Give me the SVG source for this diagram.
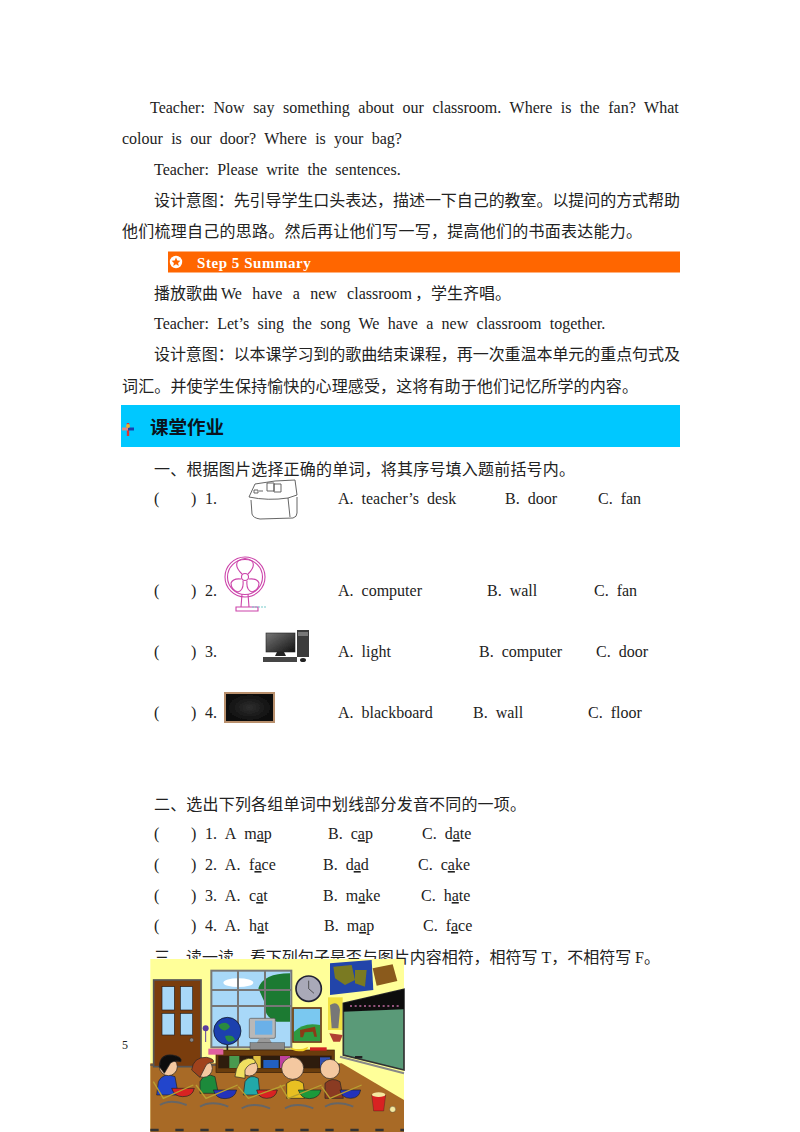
<svg xmlns="http://www.w3.org/2000/svg" width="800" height="1132" viewBox="0 0 800 1132">
<style>
text{font-family:"Liberation Serif","Noto Sans CJK SC",serif;font-size:16px;fill:#222;white-space:pre;word-spacing:4px}
.cn{font-family:"Liberation Serif","Noto Sans CJK SC",sans-serif;word-spacing:0}
.u{text-decoration:underline}
.n{word-spacing:4.700px}
</style>
<defs>
<filter id="soft" x="-5%" y="-5%" width="110%" height="110%"><feGaussianBlur stdDeviation=".4"/></filter>
<linearGradient id="mon" x1="0" y1="0" x2="1" y2="1"><stop offset="0" stop-color="#777"/><stop offset="1" stop-color="#111"/></linearGradient>
<radialGradient id="board"><stop offset="0" stop-color="#2e2e2e"/><stop offset="1" stop-color="#0c0c0c"/></radialGradient>
</defs>
<rect width="800" height="1132" fill="#fff"/>
<g id="lesson-text">
<text x="150" y="113" style="word-spacing:4.600px">Teacher: Now say something about our classroom. Where is the fan? What</text>
<text x="122" y="144" style="word-spacing:4.300px">colour is our door? Where is your bag?</text>
<text x="154" y="175" style="word-spacing:4.300px">Teacher: Please write the sentences.</text>
<text x="154" y="206" textLength="526" class="cn">设计意图：先引导学生口头表达，描述一下自己的教室。以提问的方式帮助</text>
<text x="122" y="237" textLength="520" class="cn">他们梳理自己的思路。然后再让他们写一写，提高他们的书面表达能力。</text>
<rect x="168" y="251.500" width="512" height="21" fill="#ff6600"/>
<circle cx="176" cy="262" r="6.200" fill="#fff"/>
<path d="M176 257.600l1.300 2.900 3.100.3-2.300 2.100.7 3-2.800-1.600-2.800 1.600.7-3-2.300-2.100 3.100-.3z" fill="#ff6600"/>
<text x="197" y="268" font-weight="bold" style="fill:#fff;font-size:15px;letter-spacing:.55px;word-spacing:0">Step 5 Summary</text>
<text x="154" y="299" class="cn">播放歌曲</text>
<text x="221" y="299" style="word-spacing:6.300px">We have a new classroom</text>
<text x="415" y="299" class="cn">，学生齐唱。</text>
<text x="154" y="329" style="word-spacing:4.300px">Teacher: Let’s sing the song We have a new classroom together.</text>
<text x="154" y="360" textLength="526" class="cn">设计意图：以本课学习到的歌曲结束课程，再一次重温本单元的重点句式及</text>
<text x="122" y="392" textLength="516" class="cn">词汇。并使学生保持愉快的心理感受，这将有助于他们记忆所学的内容。</text>
</g>
<g id="homework-header">
<rect x="121" y="405" width="559" height="42" fill="#00c8ff"/>
<path d="M128 423v13" stroke="#d33" stroke-width="2.400"/>
<path d="M122 429h6" stroke="#e08a80" stroke-width="3"/>
<path d="M128 429h6" stroke="#1a3fae" stroke-width="3"/>
<circle cx="128" cy="426" r="2" fill="#e8b030"/>
<text x="150" y="434" class="cn" font-weight="bold" style="font-size:18.500px;fill:#0a1420">课堂作业</text>
</g>
<g id="exercise-1">
<text x="154" y="475" class="cn" textLength="421">一、根据图片选择正确的单词，将其序号填入题前括号内。</text>
<text x="154" y="504">(</text><text x="191" y="504" class="n">) 1.</text>
<text x="338" y="504">A. teacher’s desk</text><text x="505" y="504">B. door</text><text x="598" y="504">C. fan</text>
<text x="154" y="596">(</text><text x="191" y="596" class="n">) 2.</text>
<text x="338" y="596">A. computer</text><text x="487" y="596">B. wall</text><text x="594" y="596">C. fan</text>
<text x="154" y="657">(</text><text x="191" y="657" class="n">) 3.</text>
<text x="338" y="657">A. light</text><text x="479" y="657">B. computer</text><text x="596" y="657">C. door</text>
<text x="154" y="718">(</text><text x="191" y="718" class="n">) 4.</text>
<text x="338" y="718">A. blackboard</text><text x="473" y="718">B. wall</text><text x="588" y="718">C. floor</text>
<g id="desk-picture" fill="none" stroke="#555" stroke-width=".9" filter="url(#soft)">
<path d="M249 497L255 484Q275 480 295 480L297 495L288 498Q268 501 249 497z"/>
<path d="M251 500L252 514Q253 518 260 519L293 518Q297 517 297 513L297 497M288 498L290 517"/>
<path d="M254 490h4v3h-4zM259 491h4M267 483h7v8h-7zM274 484h7v8h-7z"/>
</g>
<g id="fan-picture" fill="none" stroke="#cc44aa" stroke-width="1.100" filter="url(#soft)">
<circle cx="245" cy="577" r="20"/><circle cx="245" cy="577" r="17.500"/><circle cx="245" cy="577" r="3.500"/>
<path d="M242 574Q234 566 238 561 245 556 252 561 256 566 248 574M249 579Q257 578 259 583 259 590 252 592 246 590 247 581M241 579Q233 578 231 583 231 590 238 592 244 590 243 581"/>
<path d="M242 594L241 607M248 594L249 607M236 607h22v4h-22z"/>
<path d="M252 607h15" stroke="#7cc" stroke-dasharray="2 1"/>
</g>
<g id="computer-picture" filter="url(#soft)">
<rect x="266" y="633" width="29" height="19" fill="url(#mon)" stroke="#222" stroke-width=".6"/>
<path d="M277 652h7l2 4h-11z" fill="#222"/>
<path d="M263 657h34v5h-34z" fill="#444"/>
<rect x="297" y="630" width="12" height="27" fill="#3a3a3a"/>
<rect x="298" y="632" width="10" height="4" fill="#777"/>
<ellipse cx="303" cy="660" rx="3" ry="2" fill="#222"/>
</g>
<g id="blackboard-picture" filter="url(#soft)">
<rect x="225" y="693" width="49" height="29" fill="url(#board)" stroke="#b88f6c" stroke-width="2"/>
</g>
</g>
<g id="exercise-2">
<text x="154" y="810" class="cn" textLength="372">二、选出下列各组单词中划线部分发音不同的一项。</text>
<text x="154" y="839">(</text><text x="191" y="839" class="n">) 1. A m<tspan class="u">a</tspan>p</text><text x="328" y="839">B. c<tspan class="u">a</tspan>p</text><text x="422" y="839">C. d<tspan class="u">a</tspan>te</text>
<text x="154" y="870">(</text><text x="191" y="870" class="n">) 2. A. f<tspan class="u">a</tspan>ce</text><text x="323" y="870">B. d<tspan class="u">a</tspan>d</text><text x="418" y="870">C. c<tspan class="u">a</tspan>ke</text>
<text x="154" y="901">(</text><text x="191" y="901" class="n">) 3. A. c<tspan class="u">a</tspan>t</text><text x="323" y="901">B. m<tspan class="u">a</tspan>ke</text><text x="421" y="901">C. h<tspan class="u">a</tspan>te</text>
<text x="154" y="931">(</text><text x="191" y="931" class="n">) 4. A. h<tspan class="u">a</tspan>t</text><text x="324" y="931">B. m<tspan class="u">a</tspan>p</text><text x="423" y="931">C. f<tspan class="u">a</tspan>ce</text>
<text x="154" y="963" class="cn" textLength="506">三、读一读，看下列句子是否与图片内容相符，相符写 T，不相符写 F。</text>
</g>
<text id="page-number" x="122" y="1049" style="font-size:12px">5</text>
<g id="classroom-picture" transform="translate(110 950) scale(.33333)" filter="url(#soft)">
<rect x="121" y="27" width="761" height="520" fill="#ffff99"/>
<path d="M121 340H695L882 450V547H121z" fill="#a86a28"/>
<path d="M121 345H690" stroke="#555" stroke-width="4"/>
<rect x="131" y="90" width="142" height="260" fill="#7a3d10" stroke="#555" stroke-width="5"/>
<g fill="#a8d8f8" stroke="#222" stroke-width="2">
<rect x="156" y="110" width="37" height="70"/><rect x="211" y="110" width="37" height="70"/><rect x="156" y="190" width="37" height="65"/><rect x="211" y="190" width="37" height="65"/>
</g>
<circle cx="245" cy="270" r="6" fill="#888" stroke="#222"/>
<rect x="304" y="62" width="240" height="230" fill="#a8d8f8" stroke="#777" stroke-width="6"/>
<path d="M445 115q15-45 95-45V215H500q-40-15-35-55z" fill="#1f7a30"/>
<ellipse cx="385" cy="98" rx="45" ry="13" fill="#fff"/>
<path d="M304 120H544M304 168H544M384 62V292M465 62V292" stroke="#777" stroke-width="6"/>
<circle cx="596" cy="116" r="38" fill="#a9a9b8" stroke="#223" stroke-width="5"/>
<path d="M596 116V92M596 116L612 130" stroke="#222" stroke-width="2"/>
<rect x="549" y="174" width="84" height="102" fill="#7ac8f0" stroke="#6b3a10" stroke-width="5"/>
<path d="M552 245q30-30 78-20v48H552z" fill="#2f9a40"/>
<path d="M570 240l45-10 6 30h-8l-4-15-25 2-5 15h-8z" fill="#8a3a18"/>
<path d="M660 40L785 30 790 120 660 135z" fill="#2244aa"/>
<path d="M670 50l55-5 10 45-30 15-30-20zM735 60l35 0-5 50-30-10z" fill="#7a7a20"/>
<path d="M788 55l60-12 14 50-62 14z" fill="#8a5a1a"/>
<rect x="654" y="142" width="44" height="98" fill="#f0e040"/>
<path d="M660 165q25-15 30 15l-5 55h-20z" fill="#777"/>
<path d="M700 160L882 118V360L700 315z" fill="#5a9a78" stroke="#333" stroke-width="5"/>
<path d="M700 160L882 118V178L700 185z" fill="#111"/>
<path d="M720 168H870" stroke="#c06aa0" stroke-width="5" stroke-dasharray="6 8"/>
<path d="M690 320L882 370" stroke="#888" stroke-width="6"/>
<path d="M735 318h22v7h-22z" fill="#222"/>
<path d="M658 250l40 5-8 20h-20z" fill="#b04030"/>
<circle cx="287" cy="235" r="9" fill="#5a3ea0"/><path d="M287 240V276" stroke="#5a3ea0" stroke-width="3"/>
<circle cx="352" cy="243" r="41" fill="#1a3fae" stroke="#111" stroke-width="2"/>
<path d="M325 225q25-15 35 5-15 20-30 5zM345 258q25-5 30 12-25 15-30-12z" fill="#2a8a40"/>
<path d="M352 285v20" stroke="#222" stroke-width="5"/>
<rect x="418" y="205" width="78" height="60" rx="4" fill="#b8b8b8" stroke="#555" stroke-width="2"/>
<rect x="435" y="212" width="52" height="42" fill="#6ab0e8"/>
<path d="M448 265h30l8 15h-46z" fill="#999"/>
<rect x="420" y="278" width="104" height="22" fill="#8c8c8c" stroke="#222"/>
<rect x="318" y="300" width="355" height="68" fill="#6b3c10" stroke="#3a1e05" stroke-width="2"/>
<rect x="325" y="317" width="340" height="38" fill="#2e1a08"/>
<rect x="358" y="318" width="30" height="36" fill="#4a9a50"/><rect x="430" y="318" width="22" height="36" fill="#e0c040"/><rect x="460" y="330" width="46" height="24" fill="#2060c0"/><rect x="510" y="318" width="30" height="36" fill="#c040a0"/><rect x="630" y="322" width="30" height="32" fill="#3050b0"/>
<path d="M295 296h45v18h-45z" fill="#e060a0"/><path d="M540 292q25 12 55-2-5 15-28 14-20 0-27-12z" fill="#f0d020"/><path d="M600 292h50v10h-50z" fill="#d02020"/>
<g id="pupils">
<g stroke="#222" stroke-width="2">
<path d="M145 395q15-30 50-15l10 55h-65z" fill="#2244cc"/><circle cx="175" cy="350" r="27" fill="#f4c8a0"/><path d="M148 350q0-40 40-35 30 5 25 20-30-5-35 10l-15 25z" fill="#111"/>
<path d="M270 395q15-30 45-15l10 50h-55z" fill="#1f8a3a"/><circle cx="280" cy="355" r="27" fill="#f4c8a0"/><path d="M245 360q5-40 45-38 25 5 20 15-20 0-25 15l-15 30z" fill="#a0431c"/>
<path d="M405 395q15-25 40-10l5 50h-50z" fill="#20a8a8"/><circle cx="418" cy="353" r="25" fill="#f4c8a0"/><path d="M375 380q5-50 40-55 25 0 20 15-20 0-30 20l0 25z" fill="#f0e060"/>
<path d="M530 400q25-20 50 0l5 45h-55z" fill="#e8c020"/><circle cx="548" cy="355" r="33" fill="#f4c8a0"/>
<path d="M645 400q20-20 45-5l10 50h-55z" fill="#8a3a20"/><circle cx="660" cy="357" r="29" fill="#f4c8a0"/>
</g>
<g stroke="#222" stroke-width="2">
<path d="M185 415h68q-5 25-35 25-25 0-33-25z" fill="#d82020"/>
<path d="M310 420h70q-5 25-35 26-28 0-35-26z" fill="#2233bb"/>
<path d="M440 420h62q-5 25-32 25-25 0-30-25z" fill="#d82020"/>
<path d="M565 420h68q-5 25-35 26-25 0-33-26z" fill="#1f9a3a"/>
<path d="M690 420h62q-5 25-30 25-27 0-32-25z" fill="#2233bb"/>
</g>
<g fill="none" stroke="#666" stroke-width="6">
<path d="M150 465q30-20 80 0"/><path d="M270 470q35-20 85 0"/><path d="M395 475q35-20 85 0"/><path d="M525 475q35-20 85 0"/><path d="M645 470q35-20 85 0"/>
</g>
<g fill="none" stroke="#b8a030" stroke-width="4">
<path d="M130 395l30 50 90-40"/><path d="M258 405l30 40 95-40"/><path d="M385 410l30 35 110-40"/><path d="M510 405l25 40 100-40"/><path d="M635 410l25 35 95-40"/>
</g>
</g>
<path d="M785 435h42l-6 48h-30z" fill="#d82020" stroke="#222"/>
<ellipse cx="806" cy="434" rx="20" ry="7" fill="#f5e9a0"/>
<circle cx="848" cy="478" r="9" fill="#f5e9a0" stroke="#222"/>
<path d="M121 540H882" stroke="#333" stroke-width="7" stroke-dasharray="25 50"/>
</g>
</svg>
